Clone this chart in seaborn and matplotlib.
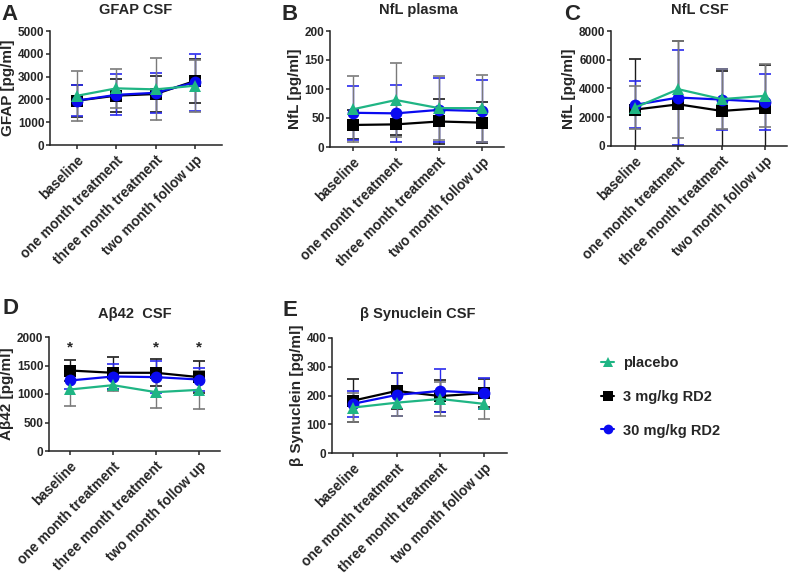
import numpy as np
import pandas as pd
import matplotlib.pyplot as plt
import seaborn as sns
from matplotlib.lines import Line2D

sns.set_style('ticks')
plt.rcParams['font.family'] = ['Liberation Sans', 'DejaVu Sans']
plt.rcParams['font.weight'] = 'bold'

timepoints = ["baseline", "one month treatment", "three month treatment", "two month follow up"]
groups = ["3 mg/kg RD2", "30 mg/kg RD2", "placebo"]

# means and SDs, order: baseline, 1 mo, 3 mo, follow up
gfap_mean = {"placebo": [2160, 2485, 2440, 2600],
             "3 mg/kg RD2": [1945, 2165, 2235, 2810],
             "30 mg/kg RD2": [1950, 2200, 2290, 2750]}
gfap_sd = {"placebo": [1090, 865, 1360, 1150],
           "3 mg/kg RD2": [700, 720, 800, 950],
           "30 mg/kg RD2": [680, 900, 870, 1250]}

nfl_pl_mean = {"placebo": [65, 81, 67, 67],
               "3 mg/kg RD2": [38, 39, 44, 42],
               "30 mg/kg RD2": [59, 58, 64, 62]}
nfl_pl_sd = {"placebo": [57, 64, 55, 58],
             "3 mg/kg RD2": [25, 19, 38, 35],
             "30 mg/kg RD2": [47, 49, 55, 53]}

nfl_csf_mean = {"placebo": [2670, 3950, 3260, 3490],
                "3 mg/kg RD2": [2530, 2900, 2440, 2650],
                "30 mg/kg RD2": [2860, 3370, 3230, 3070]}
nfl_csf_sd = {"placebo": [1490, 3370, 2070, 2180],
              "3 mg/kg RD2": [3490, 4400, 2800, 3000],
              "30 mg/kg RD2": [1630, 3300, 2120, 1930]}

ab42_mean = {"placebo": [1079, 1155, 1032, 1073],
             "3 mg/kg RD2": [1412, 1372, 1372, 1296],
             "30 mg/kg RD2": [1237, 1307, 1296, 1254]}
ab42_sd = {"placebo": [290, 110, 280, 330],
           "3 mg/kg RD2": [190, 280, 240, 280],
           "30 mg/kg RD2": [150, 220, 275, 200]}

bsyn_mean = {"placebo": [158, 175, 188, 171],
             "3 mg/kg RD2": [182, 216, 198, 208],
             "30 mg/kg RD2": [171, 202, 216, 208]}
bsyn_sd = {"placebo": [50, 48, 58, 53],
           "3 mg/kg RD2": [75, 62, 56, 48],
           "30 mg/kg RD2": [45, 75, 75, 54]}

star_points = [0, 2, 3]

colors = {"placebo": "#1fb584", "3 mg/kg RD2": "#000000", "30 mg/kg RD2": "#0a0af0"}
err_colors = {"placebo": "#7a7a7a", "3 mg/kg RD2": "#1a1a1a", "30 mg/kg RD2": "#2a2aee"}
markers = {"placebo": "^", "3 mg/kg RD2": "s", "30 mg/kg RD2": "o"}

W, H = 789, 580
fig = plt.figure(figsize=(W / 100, H / 100), dpi=100)


def add_ax(l, r, t, b):
    return fig.add_axes([l / W, 1 - b / H, (r - l) / W, (b - t) / H])


def panel(ax, means, sds, ymax, ystep, ylabel, xlim):
    rows = []
    for g in groups:
        for i, v in enumerate(means[g]):
            rows.append({"pos": i, "value": v, "group": g})
    df = pd.DataFrame(rows)
    for g in groups:
        ax.errorbar(np.arange(4), means[g], yerr=sds[g], fmt='none',
                    ecolor=err_colors[g], elinewidth=1.0, capsize=4.5,
                    capthick=1.2, zorder=2)
    sns.lineplot(data=df, x="pos", y="value", hue="group", style="group",
                 hue_order=groups, style_order=groups, palette=colors,
                 markers=markers, dashes=False, markersize=8.5, linewidth=1.6,
                 markeredgewidth=0, legend=False, ax=ax, zorder=3)
    ax.set_xlim(*xlim)
    ax.set_ylim(0, ymax)
    ax.set_yticks(np.arange(0, ymax + 1, ystep))
    ax.set_xticks(range(4))
    ax.set_xticklabels(timepoints, rotation=45, ha='right',
                       rotation_mode='anchor', fontsize=10, fontweight='bold')
    ax.tick_params(axis='y', labelsize=8.5, width=1.1, length=3, pad=1)
    ax.tick_params(axis='x', width=1.1, length=3, pad=3)
    for lab in ax.get_yticklabels():
        lab.set_fontweight('bold')
    ax.set_xlabel("")
    ax.set_ylabel(ylabel, fontsize=11, fontweight='bold', labelpad=2)
    sns.despine(ax=ax)
    for s in ["left", "bottom"]:
        ax.spines[s].set_linewidth(1.1)
        ax.spines[s].set_color("#222222")


axA = add_ax(50, 222, 31, 145)
panel(axA, gfap_mean, gfap_sd, 5000, 1000, "GFAP [pg/ml]", (-0.69, 3.69))
axB = add_ax(330, 504, 31, 147)
panel(axB, nfl_pl_mean, nfl_pl_sd, 200, 50, "NfL [pg/ml]", (-0.53, 3.51))
axC = add_ax(611, 787, 31, 146)
panel(axC, nfl_csf_mean, nfl_csf_sd, 8000, 2000, "NfL [pg/ml]", (-0.55, 3.5))
axD = add_ax(49, 220, 337, 451)
panel(axD, ab42_mean, ab42_sd, 2000, 500, "Aβ42 [pg/ml]", (-0.49, 3.49))
axE = add_ax(332, 507, 338, 453)
panel(axE, bsyn_mean, bsyn_sd, 400, 100, "β Synuclein [pg/ml]", (-0.48, 3.53))

for x in star_points:
    axD.text(x, 1700, "*", ha='center', va='bottom', fontsize=11, fontweight='bold')

titles = [("GFAP CSF", 136, 10), ("NfL plasma", 418, 10), ("NfL CSF", 700, 10),
          ("Aβ42  CSF", 135, 314), ("β Synuclein CSF", 418, 314)]
for txt, x, y in titles:
    fig.text(x / W, 1 - y / H, txt, ha='center', va='center', fontsize=10.5, fontweight='bold')

letters = [("A", 10, 15), ("B", 290, 15), ("C", 572, 15), ("D", 10, 308), ("E", 290, 310)]
for txt, x, y in letters:
    fig.text(x / W, 1 - y / H, txt, ha='center', va='center', fontsize=16, fontweight='bold')

handles = [Line2D([], [], color=colors[g], marker=markers[g], markersize=7,
                  markeredgewidth=0, linewidth=1.5) for g in ["placebo", "3 mg/kg RD2", "30 mg/kg RD2"]]
fig.legend(handles, ["placebo", "3 mg/kg RD2", "30 mg/kg RD2"], loc='upper left',
           bbox_to_anchor=(588 / W, 1 - 343 / H), frameon=False, handlelength=0.9,
           handletextpad=0.6, labelspacing=1.35, prop={'size': 10.5, 'weight': 'bold'})

fig.savefig('out.png', dpi=100)
